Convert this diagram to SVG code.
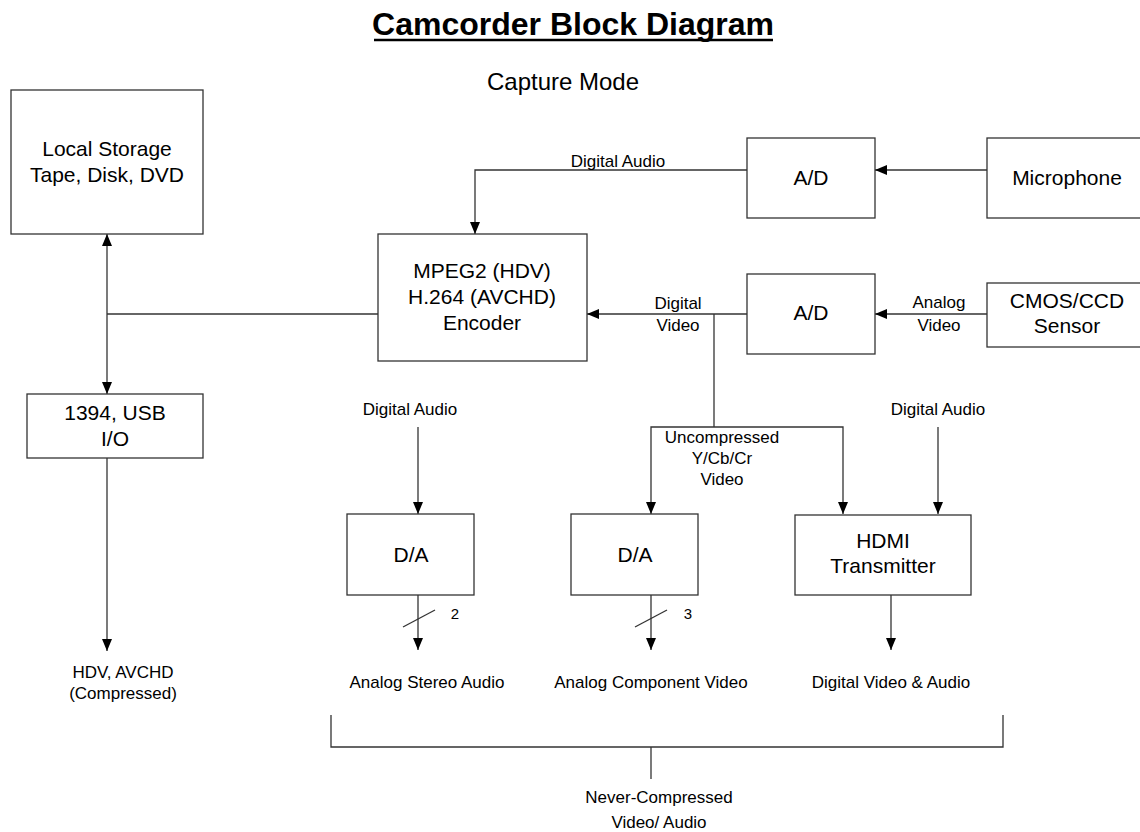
<svg xmlns="http://www.w3.org/2000/svg" width="1140" height="832" viewBox="0 0 1140 832">
<style>
text{font-family:"Liberation Sans",Arial,sans-serif;fill:#000;text-anchor:middle}
.b{font-size:21px}
.s{font-size:17px}
.box{fill:#fff;stroke:#333;stroke-width:1.3}
.c line,.c polyline{stroke:#333;stroke-width:1.3;fill:none}
</style>
<defs>
<marker id="ar" markerUnits="userSpaceOnUse" markerWidth="12" markerHeight="10" refX="12" refY="5" orient="auto-start-reverse">
<path d="M0,0 L12,5 L0,10 z" fill="#000"/>
</marker>
</defs>
<rect width="1140" height="832" fill="#fff"/>
<g id="title">
<text x="573" y="35" style="font-size:32px;font-weight:bold">Camcorder Block Diagram</text>
<line x1="374" y1="40" x2="773" y2="40" stroke="#000" stroke-width="2.5"/>
<text x="563" y="90" style="font-size:24px">Capture Mode</text>
</g>
<g class="c" id="connectors">
<line x1="107" y1="234" x2="107" y2="394" marker-start="url(#ar)" marker-end="url(#ar)"/>
<line x1="378" y1="314" x2="107" y2="314"/>
<polyline points="747,170 475,170 475,234" marker-end="url(#ar)"/>
<line x1="987" y1="170" x2="875" y2="170" marker-end="url(#ar)"/>
<line x1="987" y1="314" x2="875" y2="314" marker-end="url(#ar)"/>
<line x1="747" y1="314" x2="587" y2="314" marker-end="url(#ar)"/>
<line x1="714" y1="314" x2="714" y2="427"/>
<polyline points="651,514 651,427 843,427 843,514" marker-start="url(#ar)" marker-end="url(#ar)"/>
<line x1="418" y1="427" x2="418" y2="514" marker-end="url(#ar)"/>
<line x1="938" y1="427" x2="938" y2="514" marker-end="url(#ar)"/>
<line x1="418" y1="595" x2="418" y2="650" marker-end="url(#ar)"/>
<line x1="403" y1="627" x2="435" y2="610"/>
<line x1="651" y1="595" x2="651" y2="650" marker-end="url(#ar)"/>
<line x1="635" y1="627" x2="667" y2="610"/>
<line x1="891" y1="595" x2="891" y2="650" marker-end="url(#ar)"/>
<line x1="107" y1="458" x2="107" y2="651" marker-end="url(#ar)"/>
<polyline points="331,715 331,747 1003,747 1003,715"/>
<line x1="651" y1="747" x2="651" y2="779"/>
</g>
<g id="labels" class="s">
<text x="618" y="167">Digital Audio</text>
<text x="678" y="309">Digital</text>
<text x="678" y="331">Video</text>
<text x="939" y="308">Analog</text>
<text x="939" y="331">Video</text>
<text x="410" y="415">Digital Audio</text>
<text x="938" y="415">Digital Audio</text>
<text x="722" y="443">Uncompressed</text>
<text x="722" y="464">Y/Cb/Cr</text>
<text x="722" y="485">Video</text>
<text x="455" y="619" style="font-size:15px">2</text>
<text x="688" y="619" style="font-size:15px">3</text>
<text x="427" y="688">Analog Stereo Audio</text>
<text x="651" y="688">Analog Component Video</text>
<text x="891" y="688">Digital Video &amp; Audio</text>
<text x="123" y="678">HDV, AVCHD</text>
<text x="123" y="699">(Compressed)</text>
<text x="659" y="803">Never-Compressed</text>
<text x="659" y="828">Video/ Audio</text>
</g>
<g id="storage"><rect class="box" x="11" y="90" width="192" height="144"/><text class="b" x="107" y="156">Local Storage</text><text class="b" x="107" y="182">Tape, Disk, DVD</text></g>
<g id="io"><rect class="box" x="27" y="394" width="176" height="64"/><text class="b" x="115" y="420">1394, USB</text><text class="b" x="115" y="446">I/O</text></g>
<g id="encoder"><rect class="box" x="378" y="234" width="209" height="127"/><text class="b" x="482" y="278">MPEG2 (HDV)</text><text class="b" x="482" y="304">H.264 (AVCHD)</text><text class="b" x="482" y="330">Encoder</text></g>
<g id="ad1"><rect class="box" x="747" y="138" width="128" height="80"/><text class="b" x="811" y="185">A/D</text></g>
<g id="mic"><rect class="box" x="987" y="138" width="160" height="80"/><text class="b" x="1067" y="185">Microphone</text></g>
<g id="ad2"><rect class="box" x="747" y="274" width="128" height="80"/><text class="b" x="811" y="320">A/D</text></g>
<g id="sensor"><rect class="box" x="987" y="283" width="160" height="64"/><text class="b" x="1067" y="308">CMOS/CCD</text><text class="b" x="1067" y="333">Sensor</text></g>
<g id="da1"><rect class="box" x="347" y="514" width="127" height="81"/><text class="b" x="411" y="562">D/A</text></g>
<g id="da2"><rect class="box" x="571" y="514" width="127" height="81"/><text class="b" x="635" y="562">D/A</text></g>
<g id="hdmi"><rect class="box" x="795" y="515" width="176" height="80"/><text class="b" x="883" y="548">HDMI</text><text class="b" x="883" y="573">Transmitter</text></g>
</svg>
